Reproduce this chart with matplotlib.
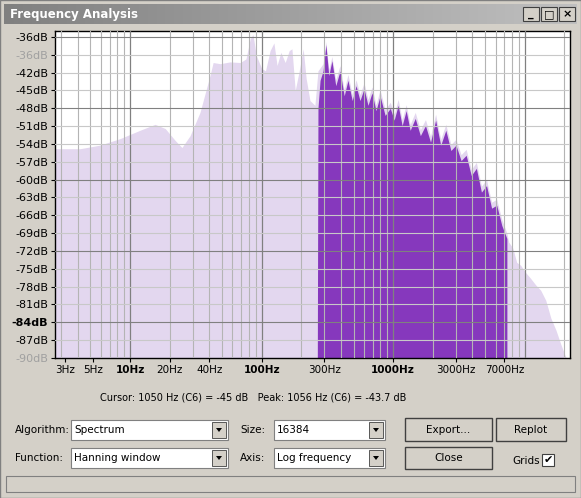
import numpy as np
import matplotlib
matplotlib.use("Agg")
import matplotlib.pyplot as plt
from matplotlib.patches import Rectangle, Polygon

# ---------------- data ----------------
light_freq = [2.69, 4.17, 5.9, 8.4, 11.9, 15.5, 18.5, 22, 24.8, 28.6, 34, 40.5, 42.8, 48.3, 57.5,
              68.7, 76, 81.9, 86, 91, 100, 107, 116, 124, 131, 140, 151, 162, 170, 180, 193, 207,
              218, 233, 254, 268, 293, 308, 324, 342, 366, 394, 424, 453, 488, 522, 559, 600, 643,
              690, 740, 794, 868, 950, 1016, 1090, 1169, 1254, 1345, 1470, 1608, 1758, 1921, 2100,
              2296, 2510, 2744, 2998, 3280, 3584, 3918, 4283, 4682, 5117, 5594, 6115, 6685, 7307,
              7540, 8100, 8670, 9300, 10120, 11060, 12090, 13200, 14430, 15780, 17240, 18850, 20600, 22050]
light_db = [-54.8, -54.8, -54.2, -53.1, -51.7, -50.7, -51.4, -53.4, -54.6, -52.6, -48.7, -42.5, -40.3,
            -40.5, -40.2, -40.3, -39.7, -36.3, -35.6, -39.1, -41.3, -41.7, -38.3, -37.0, -40.8, -38.6,
            -40.3, -38.3, -38.0, -45.0, -41.7, -38.0, -43.0, -46.7, -47.5, -41.7, -40.5, -36.8, -41.5,
            -39.3, -43.2, -40.8, -44.9, -42.3, -45.7, -43.2, -45.7, -43.7, -46.5, -44.4, -47.4, -44.9,
            -48.2, -47.0, -49.0, -46.5, -49.9, -47.4, -50.7, -48.7, -51.6, -49.9, -52.7, -49.0, -53.2,
            -50.7, -54.1, -53.2, -55.8, -54.9, -58.3, -57.1, -61.1, -60.0, -63.8, -63.3, -66.7, -69.0,
            -70.5, -71.5, -73.9, -74.4, -75.6, -76.6, -77.7, -78.6, -80.3, -83.3, -85.3, -87.8, -90.0, -90.0]

sel_freq = [265, 268, 278, 293, 308, 324, 342, 366, 394, 424, 453, 488, 522, 559, 600, 643, 690, 740,
            794, 868, 950, 1016, 1090, 1169, 1254, 1345, 1470, 1608, 1758, 1921, 2100, 2296, 2510,
            2744, 2998, 3280, 3584, 3918, 4283, 4682, 5117, 5594, 6115, 6685, 7307, 7310]
sel_db = [-90.0, -48.0, -43.3, -41.7, -37.3, -42.5, -40.0, -44.2, -41.7, -45.9, -43.3, -46.7, -44.2,
          -46.7, -44.7, -47.5, -45.4, -48.4, -45.9, -49.2, -48.0, -50.0, -47.5, -50.9, -48.4, -51.7,
          -49.7, -52.6, -50.9, -53.7, -50.0, -54.2, -51.7, -55.1, -54.2, -56.8, -55.9, -59.3, -58.1,
          -62.1, -61.0, -64.8, -64.3, -67.7, -69.9, -90.0]

y_ticks = [-36, -39, -42, -45, -48, -51, -54, -57, -60, -63, -66, -69, -72, -75, -78, -81, -84, -87, -90]
y_labels = ["-36dB", "-36dB", "-42dB", "-45dB", "-48dB", "-51dB", "-54dB", "-57dB", "-60dB", "-63dB",
            "-66dB", "-69dB", "-72dB", "-75dB", "-78dB", "-81dB", "-84dB", "-87dB", "-90dB"]
x_ticks = [3.2, 5.2, 10, 20, 40, 100, 300, 1000, 3000, 7000]
x_labels = ["3Hz", "5Hz", "10Hz", "20Hz", "40Hz", "100Hz", "300Hz", "1000Hz", "3000Hz", "7000Hz"]

W, H = 581, 498
BG = "#d4d0c8"
fig = plt.figure(figsize=(W / 100, H / 100), dpi=100, facecolor=BG)

# -------- window chrome (pixel coordinates) --------
ui = fig.add_axes([0, 0, 1, 1], zorder=0)
ui.set_xlim(0, W); ui.set_ylim(H, 0); ui.axis("off")
ui.add_patch(Rectangle((0, 0), W, H, fc=BG, ec="#808080", lw=1))
grad = np.linspace(0, 1, 256).reshape(1, -1)
ui.imshow(grad, extent=(4, W - 4, 24, 4), cmap=matplotlib.colors.LinearSegmentedColormap.from_list(
    "t", ["#808080", "#c0c0c0"]), aspect="auto", zorder=1)
ui.text(10, 14, "Frequency Analysis", color="white", fontsize=8.5, fontweight="bold", va="center", zorder=2)
for i, g in enumerate(["_", "□", "×"]):
    bx = 523 + i * 18
    ui.add_patch(Rectangle((bx, 7), 16, 14, fc=BG, ec="#404040", lw=0.8, zorder=2))
    ui.text(bx + 8, 14, g, fontsize=8, ha="center", va="center", zorder=3, fontweight="bold")

def combo(x0, x1, y0, text):
    ui.add_patch(Rectangle((x0, y0), x1 - x0, 20, fc="white", ec="#808080", lw=0.8, zorder=2))
    ui.add_patch(Rectangle((x1 - 16, y0 + 2), 14, 16, fc=BG, ec="#404040", lw=0.6, zorder=3))
    ui.add_patch(Polygon([[x1 - 12, y0 + 8], [x1 - 6, y0 + 8], [x1 - 9, y0 + 12]], fc="black", zorder=4))
    ui.text(x0 + 3, y0 + 10, text, fontsize=7.5, va="center", zorder=4)

def button(x0, x1, y0, y1, text):
    ui.add_patch(Rectangle((x0, y0), x1 - x0, y1 - y0, fc=BG, ec="#404040", lw=1, zorder=2))
    ui.text((x0 + x1) / 2, (y0 + y1) / 2, text, fontsize=7.5, ha="center", va="center", zorder=3)

ui.text(15, 430, "Algorithm:", fontsize=7.5, va="center")
ui.text(15, 458, "Function:", fontsize=7.5, va="center")
combo(71, 228, 420, "Spectrum")
combo(71, 228, 448, "Hanning window")
ui.text(240, 430, "Size:", fontsize=7.5, va="center")
ui.text(240, 458, "Axis:", fontsize=7.5, va="center")
combo(274, 385, 420, "16384")
combo(274, 385, 448, "Log frequency")
button(405, 492, 418, 441, "Export...")
button(496, 566, 418, 441, "Replot")
button(405, 492, 447, 469, "Close")
ui.text(512, 461, "Grids", fontsize=7.5, va="center")
ui.add_patch(Rectangle((542, 454), 12, 12, fc="white", ec="#404040", lw=0.8, zorder=2))
ui.text(548, 460, "✔", fontsize=8, ha="center", va="center", zorder=3)
ui.add_patch(Rectangle((6, 476), W - 12, 16, fc=BG, ec="#808080", lw=0.8, zorder=2))
ui.text(100, 397, "Cursor: 1050 Hz (C6) = -45 dB   Peak: 1056 Hz (C6) = -43.7 dB", fontsize=7, va="center")

# -------- spectrum axes --------
ax = fig.add_axes([55 / W, (H - 358) / H, 515 / W, 327 / H], zorder=1)
ax.set_facecolor("white")
ax.set_xscale("log")
ax.set_xlim(2.69, 22050)
ax.set_ylim(-90, -35.0)

ax.fill_between(light_freq, light_db, -90, color="#e3d7ef", lw=0, zorder=1)
ax.fill_between(sel_freq, sel_db, -90, color="#8638bd", lw=0, zorder=2)

for dec in [1, 10, 100, 1000, 10000]:
    for m in range(1, 10):
        f = dec * m
        if 2.69 < f < 22050:
            ax.axvline(f, color="#808080" if m == 1 else "#b4b4b4", lw=0.9 if m == 1 else 0.8, zorder=3)
for d in range(-87, -35, 3):
    major = d in (-36, -48, -60, -72, -84)
    ax.axhline(d, color="#808080" if major else "#c8c8c8", lw=0.8, zorder=3)

ax.set_yticks(y_ticks)
ax.set_yticklabels(y_labels, fontsize=8)
for lab, d in zip(ax.get_yticklabels(), y_ticks):
    if d in (-39, -90):
        lab.set_color("#a0a0a0")
    if d == -84:
        lab.set_fontweight("bold")
ax.set_xticks(x_ticks)
ax.set_xticklabels(x_labels, fontsize=7.5)
ax.minorticks_off()
for lab, t in zip(ax.get_xticklabels(), x_labels):
    if t in ("10Hz", "100Hz", "1000Hz"):
        lab.set_fontweight("bold")
ax.tick_params(length=3, pad=2)
for s in ax.spines.values():
    s.set_linewidth(1)

fig.savefig("out.png", dpi=100, facecolor=BG)
